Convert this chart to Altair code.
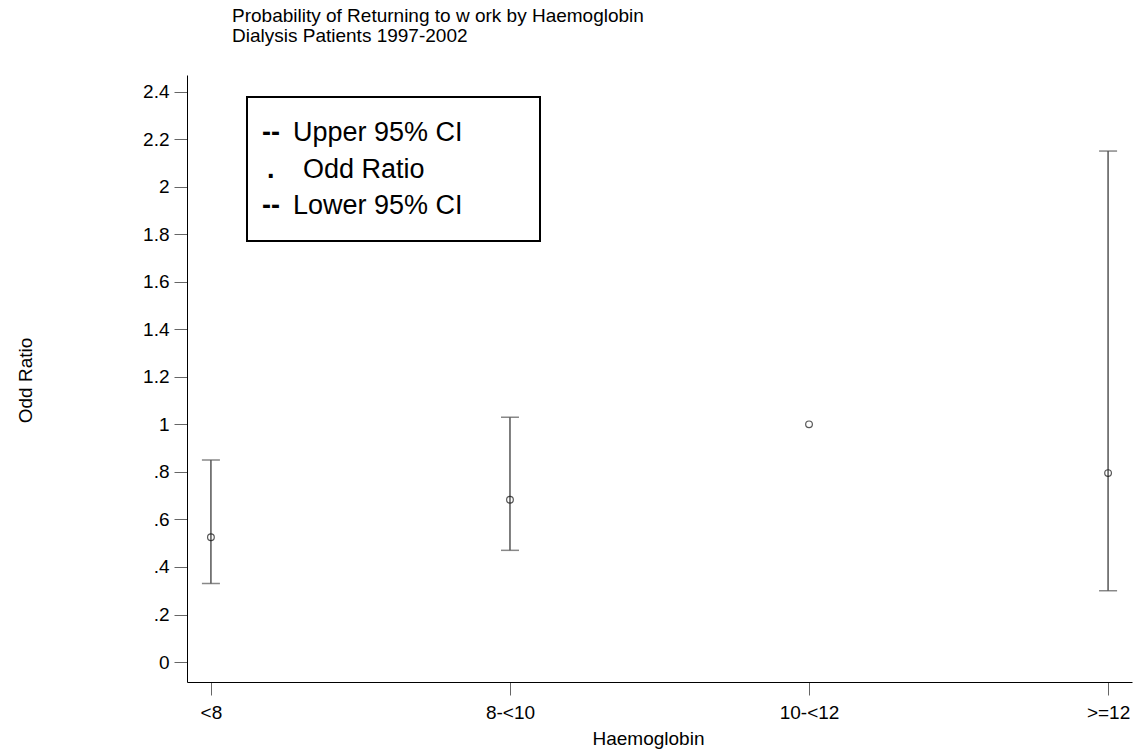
import altair as alt
import pandas as pd

categories = ["<8", "8-<10", "10-<12", ">=12"]
odds_ratio = [0.525, 0.683, 1.0, 0.795]
lower_ci = [0.33, 0.47, None, 0.30]
upper_ci = [0.85, 1.03, None, 2.15]

y_ticks = [0, 0.2, 0.4, 0.6, 0.8, 1, 1.2, 1.4, 1.6, 1.8, 2, 2.2, 2.4]

legend_marks = ["--", ".", "--"]
legend_labels = ["Upper 95% CI", "Odd Ratio", "Lower 95% CI"]

title_lines = ["Probability of Returning to w ork by Haemoglobin", "Dialysis Patients 1997-2002"]

df = pd.DataFrame({"cat": categories, "or": odds_ratio, "lo": lower_ci, "hi": upper_ci})
ci = df.dropna(subset=["lo", "hi"])

FONT = "Liberation Sans"
W, H = 945, 607

xenc = alt.X("cat:N", sort=categories, title="Haemoglobin",
             scale=alt.Scale(type="point", padding=0.08),
             axis=alt.Axis(labelAngle=0, titleX=461, titleY=56, titleBaseline="middle",
                           titleAlign="center"))
yscale = alt.Scale(domain=[-0.084, 2.47], nice=False, zero=False)
yaxis = alt.Axis(values=y_ticks, title="Odd Ratio",
                 labelExpr="datum.value > 0 && datum.value < 1 ? substring(format(datum.value, '.1f'), 1) : format(datum.value, '~g')",
                 titleX=-162, titleY=305, titleAlign="center", titleBaseline="middle")

rules = alt.Chart(ci).mark_rule(color="#555555", strokeWidth=1.5).encode(
    x=xenc,
    y=alt.Y("lo:Q", scale=yscale, axis=yaxis),
    y2="hi:Q",
)
cap_lo = alt.Chart(ci).mark_tick(color="#555555", size=18, thickness=1.5).encode(
    x=xenc, y=alt.Y("lo:Q", scale=yscale))
cap_hi = alt.Chart(ci).mark_tick(color="#555555", size=18, thickness=1.5).encode(
    x=xenc, y=alt.Y("hi:Q", scale=yscale))
points = alt.Chart(df).mark_point(shape="circle", filled=False, color="#111111",
                                  size=45, strokeWidth=1.2).encode(
    x=xenc, y=alt.Y("or:Q", scale=yscale))

box = alt.Chart(pd.DataFrame({"a": [1]})).mark_rect(
    fill="white", stroke="black", strokeWidth=2).encode(
    x=alt.value(60), x2=alt.value(353), y=alt.value(22), y2=alt.value(166))

legend_layers = []
row_y = [58, 95, 131]
for i in range(3):
    d = pd.DataFrame({"m": [legend_marks[i]], "t": [legend_labels[i]]})
    legend_layers.append(
        alt.Chart(d).mark_text(align="left", baseline="middle", font=FONT, fontSize=27,
                               fontWeight="bold", color="black").encode(
            x=alt.value(75 if legend_marks[i] == "--" else 80), y=alt.value(row_y[i]), text="m:N"))
    legend_layers.append(
        alt.Chart(d).mark_text(align="left", baseline="middle", font=FONT, fontSize=27,
                               color="black").encode(
            x=alt.value(106 if legend_marks[i] == "--" else 116), y=alt.value(row_y[i]), text="t:N"))

chart = alt.layer(rules, cap_lo, cap_hi, points, box, *legend_layers).properties(
    width=W, height=H,
    autosize=alt.AutoSizeParams(type="none"),
    padding={"left": 187, "top": 75, "right": 4, "bottom": 71},
    title=alt.TitleParams(text=title_lines, anchor="start", frame="group", dx=45,
                          offset=29, font=FONT, fontSize=19, fontWeight="normal",
                          lineHeight=20, color="black"),
).configure_view(stroke=None).configure_axis(
    labelFont=FONT, titleFont=FONT, labelFontSize=19, titleFontSize=19,
    titleFontWeight="normal", labelColor="black", titleColor="black",
    domainColor="black", domainWidth=1, tickColor="#666666", tickSize=13,
    grid=False,
).configure_axisY(labelPadding=5).configure_axisX(labelPadding=8)

chart.save("out.html", embed_options={"renderer": "svg", "actions": False})
